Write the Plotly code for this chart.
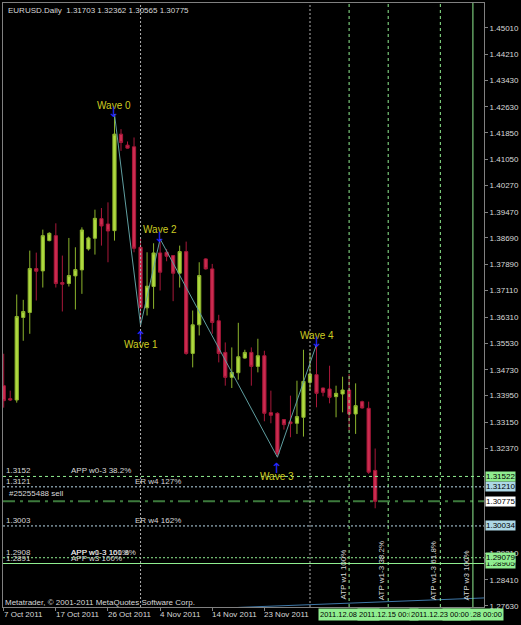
import plotly.graph_objects as go

# ---------------- data ----------------
bars = list(range(58))
opens = [1.3425, 1.3386, 1.3382, 1.3630, 1.3645, 1.3777, 1.3770, 1.3861, 1.3876, 1.3735,
         1.3732, 1.3755, 1.3773, 1.3836, 1.3868, 1.3927, 1.3911, 1.3891, 1.4181, 1.4148,
         1.4143, 1.3841, 1.3659, 1.3723, 1.3824, 1.3826, 1.3816, 1.3763, 1.3828, 1.3522,
         1.3608, 1.3806, 1.3776, 1.3620, 1.3525, 1.3450, 1.3464, 1.3508, 1.3525, 1.3483,
         1.3515, 1.3344, 1.3342, 1.3323, 1.3316, 1.3312, 1.3330, 1.3435, 1.3458, 1.3418,
         1.3415, 1.3392, 1.3400, 1.3412, 1.3340, 1.3377, 1.3357, 1.31703]
highs = [1.3521, 1.3410, 1.3699, 1.3683, 1.3831, 1.3825, 1.3894, 1.3886, 1.3913, 1.3816,
         1.3869, 1.3841, 1.3901, 1.3873, 1.3954, 1.3959, 1.3976, 1.4241, 1.4196, 1.4159,
         1.4171, 1.3871, 1.3826, 1.3853, 1.3866, 1.3836, 1.3817, 1.3846, 1.3858, 1.3651,
         1.3796, 1.3808, 1.3791, 1.3638, 1.3555, 1.3540, 1.3614, 1.3533, 1.3540, 1.3566,
         1.3530, 1.3410, 1.3345, 1.3323, 1.3395, 1.3440, 1.3533, 1.3525, 1.3549, 1.3419,
         1.3485, 1.3425, 1.3452, 1.3460, 1.3432, 1.3380, 1.3377, 1.32362]
lows = [1.3359, 1.3379, 1.3374, 1.3560, 1.3581, 1.3681, 1.3720, 1.3859, 1.3720, 1.3648,
        1.3723, 1.3654, 1.3701, 1.3831, 1.3819, 1.3846, 1.3796, 1.3861, 1.4131, 1.4138,
        1.3826, 1.3606, 1.3636, 1.3656, 1.3711, 1.3799, 1.3679, 1.3720, 1.3518, 1.3480,
        1.3576, 1.3774, 1.3581, 1.3495, 1.3425, 1.3418, 1.3443, 1.3506, 1.3425, 1.3465,
        1.3318, 1.3312, 1.3210, 1.3293, 1.3270, 1.3280, 1.3272, 1.3410, 1.3360, 1.3393,
        1.3372, 1.3330, 1.3345, 1.3290, 1.3280, 1.3356, 1.3160, 1.30565]
closes = [1.3380, 1.3382, 1.3633, 1.3648, 1.3777, 1.3769, 1.3876, 1.3883, 1.3732, 1.3730,
          1.3756, 1.3774, 1.3893, 1.3869, 1.3928, 1.3905, 1.3890, 1.4181, 1.4156, 1.4139,
          1.3838, 1.3659, 1.3724, 1.3824, 1.3766, 1.3814, 1.3763, 1.3828, 1.3522, 1.3608,
          1.3756, 1.3776, 1.3615, 1.3522, 1.3450, 1.3465, 1.3512, 1.3525, 1.3483, 1.3515,
          1.3342, 1.3336, 1.3220, 1.3308, 1.3311, 1.3332, 1.3438, 1.3460, 1.3402, 1.3405,
          1.3390, 1.3402, 1.3412, 1.3340, 1.3365, 1.3358, 1.3165, 1.30775]

date_tick_bars = [0, 8, 16, 24, 32, 40]
date_tick_text = ["7 Oct 2011", "17 Oct 2011", "26 Oct 2011", "4 Nov 2011", "14 Nov 2011", "23 Nov 2011"]

price_ticks = [1.45010, 1.44210, 1.43430, 1.42630, 1.41850, 1.41050, 1.40270, 1.39470,
               1.38690, 1.37890, 1.37110, 1.36310, 1.35530, 1.34730, 1.33950, 1.33150,
               1.32370, 1.29210, 1.28410, 1.27630]

wave_names = ["Wave 0", "Wave 1", "Wave 2", "Wave 3", "Wave 4"]
wave_bars = [17, 21, 24, 42, 48]
wave_prices = [1.4241, 1.3606, 1.3866, 1.3210, 1.3549]
wave_is_top = [True, False, True, False, True]

level_prices = [1.31522, 1.31210, 1.30775, 1.30034, 1.29079, 1.28905]
level_short = ["1.3152", "1.3121", "", "1.3003", "1.2908", "1.2891"]
level_names = ["APP w0-3 38.2%", "ER w4 127%", "#25255488 sell", "ER w4 162%", "APP w0-3 100%", "APP w3 100%"]
level_names2 = ["", "", "", "", "APP w1-3 161.8%", ""]
level_tag_bg = ["#90ee90", "#add8e6", "#ffffff", "#add8e6", "#90ee90", "#90ee90"]

vline_bars = [21, 47]
atp_bars = [53, 59, 67, 72]
atp_text = ["ATP w1 100%", "ATP w1-3 38.2%", "ATP w1-3 61.8%", "ATP w3 100%"]
atp_time = ["2011.12.08 00:00", "2011.12.15 00:00", "2011.12.23 00:00", "2011.12.28 00:00"]

channel_x = [36, 74]
channel_y = [1.27585, 1.27872]

header = "EURUSD.Daily  1.31703 1.32362 1.30565 1.30775"
copyright_text = "Metatrader, \u00a9 2001-2011 MetaQuotes Software Corp."

# ---------------- figure ----------------
FONT = "Arial, Liberation Sans, sans-serif"
TXT = "#d8d8d8"

fig = go.Figure()

fig.add_trace(go.Scatter(x=channel_x, y=channel_y, mode="lines",
                         line=dict(color="#3f78a8", width=1), hoverinfo="skip"))

fig.add_trace(go.Candlestick(
    x=bars, open=opens, high=highs, low=lows, close=closes,
    increasing=dict(line=dict(color="#8cb42c", width=1), fillcolor="#b0da40"),
    decreasing=dict(line=dict(color="#a8183a", width=1), fillcolor="#cc2c50"),
    whiskerwidth=0, showlegend=False))

fig.add_trace(go.Scatter(x=wave_bars, y=wave_prices, mode="lines",
                         line=dict(color="#5f9ea0", width=1), hoverinfo="skip"))

shapes = []
# horizontal levels
hstyles = [("#90ee90", "3px,3px", 1), ("#b8d8e8", "2px,2px", 1), ("#3c7a3c", "12px,5px,3px,5px", 2),
           ("#b8d8e8", "2px,2px", 1), ("#90ee90", "2px,2px", 1), ("#90ee90", "solid", 1)]
for p, (c, d, w) in zip(level_prices, hstyles):
    shapes.append(dict(type="line", xref="paper", x0=0, x1=1, yref="y", y0=p, y1=p,
                       line=dict(color=c, dash=d, width=w)))
for b in vline_bars:
    shapes.append(dict(type="line", xref="x", x0=b, x1=b, yref="paper", y0=0, y1=1,
                       line=dict(color="#b0b0b0", dash="2px,2px", width=1)))
for b in atp_bars[:-1]:
    shapes.append(dict(type="line", xref="x", x0=b, x1=b, yref="paper", y0=0, y1=1,
                       line=dict(color="#90ee90", dash="3px,3px", width=1)))
shapes.append(dict(type="line", xref="x", x0=atp_bars[-1], x1=atp_bars[-1], yref="paper", y0=0, y1=1,
                   line=dict(color="#90ee90", width=1)))

ann = []
# header
ann.append(dict(xref="paper", yref="paper", x=0, y=1, xanchor="left", yanchor="top", xshift=3, yshift=-1,
                text=header, showarrow=False, font=dict(family=FONT, size=8, color=TXT)))
# copyright
ann.append(dict(xref="paper", yref="paper", x=0, y=0, xanchor="left", yanchor="bottom", xshift=0, yshift=-2,
                text=copyright_text, showarrow=False, font=dict(family=FONT, size=8, color=TXT)))
# date labels
for b, t in zip(date_tick_bars, date_tick_text):
    ann.append(dict(xref="x", yref="paper", x=b, y=0, xanchor="left", yanchor="top", xshift=-2, yshift=-1,
                    text=t, showarrow=False, font=dict(family=FONT, size=8, color=TXT)))
# level texts
for p, s, n, n2 in zip(level_prices, level_short, level_names, level_names2):
    if s:
        ann.append(dict(xref="paper", yref="y", x=0, y=p, xanchor="left", yanchor="bottom", xshift=1, yshift=-1,
                        text=s, showarrow=False, font=dict(family=FONT, size=8, color=TXT)))
        xn = 0.138 if n.startswith("APP") else 0.270
        ann.append(dict(xref="paper", yref="y", x=xn, y=p, xanchor="left", yanchor="bottom", yshift=-1,
                        text=n, showarrow=False, font=dict(family=FONT, size=8, color=TXT)))
        if n2:
            ann.append(dict(xref="paper", yref="y", x=xn, y=p, xanchor="left", yanchor="bottom", yshift=-1,
                            text=n2, showarrow=False, font=dict(family=FONT, size=8, color=TXT)))
    else:
        ann.append(dict(xref="paper", yref="y", x=0, y=p, xanchor="left", yanchor="bottom", xshift=4, yshift=1,
                        text=n, showarrow=False, font=dict(family=FONT, size=8, color=TXT)))
# right axis price tags
order = [5, 4, 3, 2, 1, 0]
for k in order:
    ann.append(dict(xref="paper", yref="y", x=1, y=level_prices[k], xanchor="left", yanchor="middle", xshift=1,
                    text=f"{level_prices[k]:.5f}", showarrow=False, bgcolor=level_tag_bg[k], borderpad=0,
                    font=dict(family=FONT, size=8, color="#000000")))
# ATP vertical texts and time tags
for b, t in zip(atp_bars, atp_text):
    ann.append(dict(xref="x", yref="paper", x=b, y=0, xanchor="right", yanchor="bottom", xshift=0, yshift=5,
                    text=t, textangle=-90, showarrow=False, font=dict(family=FONT, size=8, color=TXT)))
for k in [3, 0, 1, 2]:
    ann.append(dict(xref="x", yref="paper", x=atp_bars[k], y=0, xanchor="center", yanchor="top", yshift=-1,
                    text=atp_time[k], showarrow=False, bgcolor="#90ee90", borderpad=1,
                    font=dict(family=FONT, size=7.5, color="#000000")))
# wave labels and arrows
for n, b, p, top in zip(wave_names, wave_bars, wave_prices, wave_is_top):
    ann.append(dict(xref="x", yref="y", x=b, y=p, xanchor="center", yanchor="middle",
                    yshift=9 if top else -19, text=n, showarrow=False,
                    font=dict(family=FONT, size=10, color="#cccc22")))
    ann.append(dict(xref="x", yref="y", x=b, y=p, xanchor="center", yanchor="middle",
                    yshift=2 if top else -11, text="\u2193" if top else "\u2191", showarrow=False,
                    font=dict(family="DejaVu Sans", size=14, color="#2a2aff")))

fig.update_layout(
    width=521, height=625, margin=dict(l=2, r=34, t=2, b=18),
    paper_bgcolor="#000000", plot_bgcolor="#000000",
    showlegend=False, shapes=shapes, annotations=ann,
    boxgap=0.3, boxgroupgap=0.3,
    xaxis=dict(range=[-0.107, 73.70], showgrid=False, zeroline=False, showline=True, linecolor="#808080",
               mirror=True, ticks="outside", tickvals=date_tick_bars, ticklen=3, tickcolor="#808080",
               showticklabels=False, rangeslider=dict(visible=False), fixedrange=True),
    yaxis=dict(range=[1.27598, 1.45752], side="right", showgrid=False, zeroline=False, showline=True,
               linecolor="#808080", mirror=True, ticks="outside", ticklen=3, tickcolor="#808080",
               tickvals=price_ticks, ticktext=[f"{v:.5f}" for v in price_ticks],
               tickfont=dict(family=FONT, size=8, color=TXT), fixedrange=True),
)

fig.write_html("out.html")
